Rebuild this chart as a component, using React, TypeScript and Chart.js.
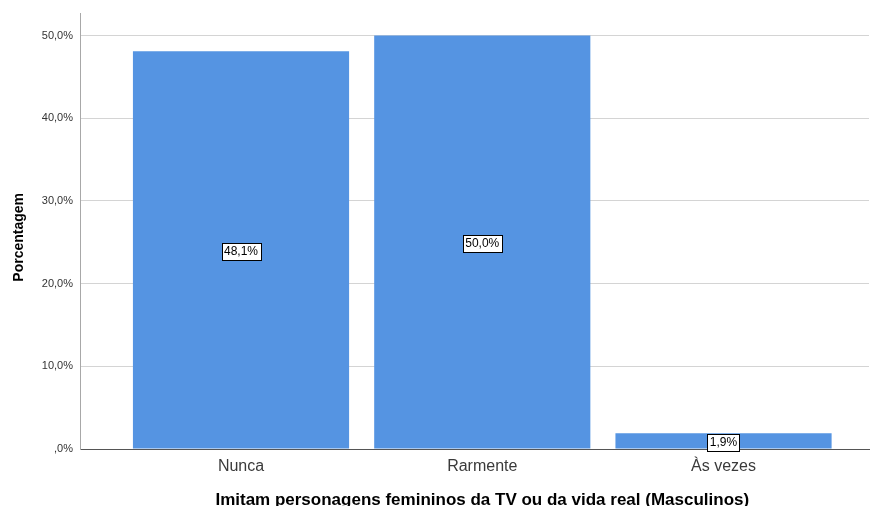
import React, { useEffect, useRef } from "react";
import { Chart, registerables } from "chart.js";

Chart.register(...registerables);

const categories = ["Nunca", "Rarmente", "Às vezes"];
const percentages = [48.1, 50.0, 1.9];
const yTicks = [0, 10, 20, 30, 40, 50];
const yMax = 52.66;
const xTitle = "Imitam personagens femininos da TV ou da vida real (Masculinos)";
const yTitle = "Porcentagem";

const FONT = '"Liberation Sans", Arial, sans-serif';

function fmtPct(v: number): string {
  if (v === 0) return ",0%";
  return v.toFixed(1).replace(".", ",") + "%";
}

const labelPlugin = {
  id: "boxLabels",
  afterDatasetsDraw(chart: any) {
    const ctx = chart.ctx;
    const meta = chart.getDatasetMeta(0);
    ctx.save();
    ctx.font = `12px ${FONT}`;
    ctx.textAlign = "center";
    ctx.textBaseline = "middle";
    meta.data.forEach((bar: any, i: number) => {
      const text = fmtPct(percentages[i]);
      const cx = bar.x;
      const cy = (bar.y + bar.base) / 2 + 1.5;
      const w = ctx.measureText(text).width + 5;
      const h = 17;
      const x0 = Math.round(cx - w / 2) + 0.5;
      const y0 = Math.round(cy - h / 2) + 0.5;
      ctx.fillStyle = "#ffffff";
      ctx.fillRect(x0, y0, Math.round(w), h);
      ctx.strokeStyle = "#000000";
      ctx.lineWidth = 1;
      ctx.strokeRect(x0, y0, Math.round(w), h);
      ctx.fillStyle = "#000000";
      ctx.fillText(text, cx, cy + 0.5);
    });
    ctx.restore();
  },
};

const titlePlugin = {
  id: "axisTitles",
  afterDraw(chart: any) {
    const ctx = chart.ctx;
    const xs = chart.scales.x;
    const area = chart.chartArea;
    ctx.save();
    ctx.fillStyle = "#000000";
    ctx.font = `bold 17px ${FONT}`;
    ctx.textAlign = "center";
    ctx.textBaseline = "alphabetic";
    const cx = (xs.getPixelForValue(0) + xs.getPixelForValue(categories.length - 1)) / 2;
    ctx.fillText(xTitle, cx, 505);
    ctx.translate(19, (area.top + area.bottom) / 2 + 6);
    ctx.rotate(-Math.PI / 2);
    ctx.font = `bold 14px ${FONT}`;
    ctx.textBaseline = "middle";
    ctx.fillText(yTitle, 0, 0);
    ctx.restore();
  },
};

export default function App() {
  const ref = useRef<HTMLCanvasElement | null>(null);
  useEffect(() => {
    if (!ref.current) return;
    const chart = new Chart(ref.current, {
      type: "bar",
      data: {
        datasets: [
          {
            data: percentages.map((v, i) => ({ x: i, y: v })),
            backgroundColor: "#5594E2",
            borderWidth: 0,
            categoryPercentage: 1,
            barPercentage: 0.896,
          },
        ],
      },
      options: {
        animation: false,
        responsive: true,
        maintainAspectRatio: false,
        layout: { padding: { left: 0, right: 1, top: 13, bottom: 0 } },
        plugins: {
          legend: { display: false },
          tooltip: { enabled: false },
        },
        scales: {
          x: {
            type: "linear",
            offset: false,
            min: -0.6674,
            max: 2.603,
            afterFit: (s: any) => {
              s.height = 57;
            },
            afterBuildTicks: (s: any) => {
              s.ticks = categories.map((_, i) => ({ value: i }));
            },
            ticks: {
              callback: (v: any) => categories[v as number] ?? "",
              font: { family: FONT, size: 16 },
              color: "#3a3a3a",
              padding: 8,
              maxRotation: 0,
              autoSkip: false,
            },
            grid: { display: false, drawTicks: false, offset: false },
            border: { display: true, color: "#555555", width: 1 },
          },
          y: {
            type: "linear",
            min: 0,
            max: yMax,
            afterFit: (s: any) => {
              s.width = 80;
            },
            afterBuildTicks: (s: any) => {
              s.ticks = yTicks.map((v) => ({ value: v }));
            },
            ticks: {
              callback: (v: any) => fmtPct(v as number),
              font: { family: FONT, size: 11 },
              color: "#333333",
              padding: 7,
            },
            grid: {
              drawTicks: false,
              color: (c: any) => (c.tick && c.tick.value === 0 ? "rgba(0,0,0,0)" : "#d4d4d4"),
              lineWidth: 1,
            },
            border: { display: true, color: "#a8a8a8", width: 1 },
          },
        },
      },
      plugins: [labelPlugin, titlePlugin],
    });
    return () => chart.destroy();
  }, []);
  return (
    <div style={{ position: "absolute", left: 0, top: 0, width: 870, height: 506, background: "#ffffff" }}>
      <canvas ref={ref} width={870} height={506} />
    </div>
  );
}
